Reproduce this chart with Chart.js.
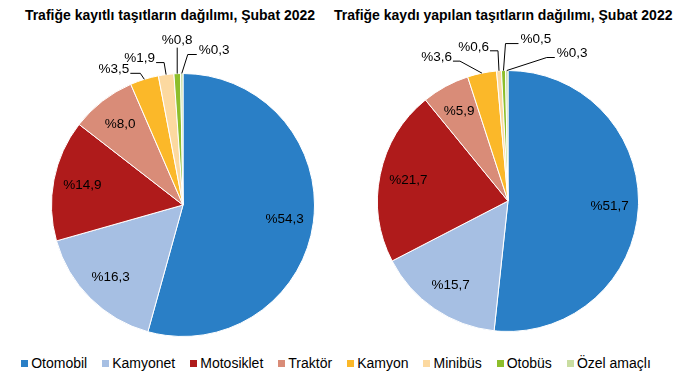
<!DOCTYPE html>
<html>
<head>
<meta charset="utf-8">
<script src="https://cdn.jsdelivr.net/npm/chart.js@4.4.1/dist/chart.umd.min.js"></script>
<style>
  body { margin: 0; background: #fff; font-family: "Liberation Sans", Arial, sans-serif; }
  #wrap { position: relative; width: 678px; height: 378px; overflow: hidden; }
  .title { position: absolute; top: 7px; font-weight: bold; font-size: 14px; color: #000; text-align: center; white-space: nowrap; }
  canvas { position: absolute; top: 0; }
  #legend { position: absolute; left: 0; top: 355px; width: 672px; display: flex; justify-content: center; gap: 15px; font-size: 14px; color: #000; }
  #legend span.item { display: flex; align-items: center; white-space: nowrap; }
  #legend i { display: inline-block; width: 7px; height: 7px; margin-right: 3px; }
</style>
</head>
<body>
<div id="wrap">
  <div class="title" style="left:0;width:340px;">Trafiğe kayıtlı taşıtların dağılımı, Şubat 2022</div>
  <div class="title" style="left:334px;width:336px;">Trafiğe kaydı yapılan taşıtların dağılımı, Şubat 2022</div>
  <canvas id="leftPie" width="340" height="345" style="left:0;width:340px;height:345px;"></canvas>
  <canvas id="rightPie" width="338" height="345" style="left:340px;width:338px;height:345px;"></canvas>
  <div id="legend"></div>
</div>
<script>
const categories = ['Otomobil', 'Kamyonet', 'Motosiklet', 'Traktör', 'Kamyon', 'Minibüs', 'Otobüs', 'Özel amaçlı'];
const registeredShare = [54.3, 16.3, 14.9, 8.0, 3.5, 1.9, 0.8, 0.3];
const newlyRegisteredShare = [51.7, 15.7, 21.7, 5.9, 3.6, 0.6, 0.5, 0.3];
const sliceColors = ['#2A7FC6', '#A6BFE3', '#AF1B1B', '#D98C78', '#FBB829', '#FCD9A0', '#8DBE2B', '#C9DDA1'];

// leader lines for the thin slices: [elbow dx, elbow dy, horizontal run]
const leftLeaders = [null, null, null, null, [-4, -6, -10], [-2, -12, -8], [0, -26, 0], [6, -19, 9]];
const rightLeaders = [null, null, null, null, [-22, -12, -7], [-1, -20, -8], [2, -27, 13], [40, -13, 8]];

const fmt = v => '%' + v.toFixed(1).replace('.', ',');

const sliceLabels = {
  id: 'sliceLabels',
  afterDatasetsDraw(chart, args, opts) {
    const ctx = chart.ctx;
    const meta = chart.getDatasetMeta(0);
    const values = chart.data.datasets[0].data;
    ctx.save();
    ctx.font = '13.5px "Liberation Sans", Arial, sans-serif';
    ctx.fillStyle = '#000';
    ctx.strokeStyle = '#000';
    ctx.lineWidth = 1;
    ctx.textBaseline = 'middle';
    meta.data.forEach((arc, i) => {
      const p = arc.getProps(['x', 'y', 'startAngle', 'endAngle', 'outerRadius'], true);
      const mid = (p.startAngle + p.endAngle) / 2;
      const text = fmt(values[i]);
      const lead = opts.leaders[i];
      if (!lead) {
        const rr = p.outerRadius * opts.inside;
        ctx.textAlign = 'center';
        ctx.fillText(text, p.x + Math.cos(mid) * rr, p.y + Math.sin(mid) * rr);
        return;
      }
      const ax = p.x + Math.cos(mid) * p.outerRadius;
      const ay = p.y + Math.sin(mid) * p.outerRadius;
      const ex = ax + lead[0], ey = ay + lead[1];
      const hx = ex + lead[2];
      ctx.beginPath();
      ctx.moveTo(ax, ay);
      ctx.lineTo(ex, ey);
      ctx.lineTo(hx, ey);
      ctx.stroke();
      if (lead[2] < 0) {
        ctx.textAlign = 'right';
        ctx.fillText(text, hx - 1, ey - 4);
      } else if (lead[2] > 0) {
        ctx.textAlign = 'left';
        ctx.fillText(text, hx + 2, ey - 4);
      } else {
        ctx.textAlign = 'center';
        ctx.fillText(text, ex, ey - 7);
      }
    });
    ctx.restore();
  }
};

function makePie(id, values, leaders, padding) {
  return new Chart(document.getElementById(id), {
    type: 'pie',
    data: {
      labels: categories,
      datasets: [{
        data: values,
        backgroundColor: sliceColors,
        borderColor: '#ffffff',
        borderWidth: 1
      }]
    },
    options: {
      responsive: false,
      maintainAspectRatio: false,
      animation: false,
      layout: { padding: padding },
      plugins: {
        legend: { display: false },
        title: { display: false },
        tooltip: { enabled: false },
        sliceLabels: { inside: 0.78, leaders: leaders }
      }
    },
    plugins: [sliceLabels]
  });
}

makePie('leftPie', registeredShare, leftLeaders, { top: 73, bottom: 8, left: 51, right: 25 });
makePie('rightPie', newlyRegisteredShare, rightLeaders, { top: 70, bottom: 13, left: 37, right: 39 });

const legend = document.getElementById('legend');
categories.forEach((c, i) => {
  const item = document.createElement('span');
  item.className = 'item';
  item.innerHTML = '<i style="background:' + sliceColors[i] + '"></i>' + c;
  legend.appendChild(item);
});
</script>
</body>
</html>
